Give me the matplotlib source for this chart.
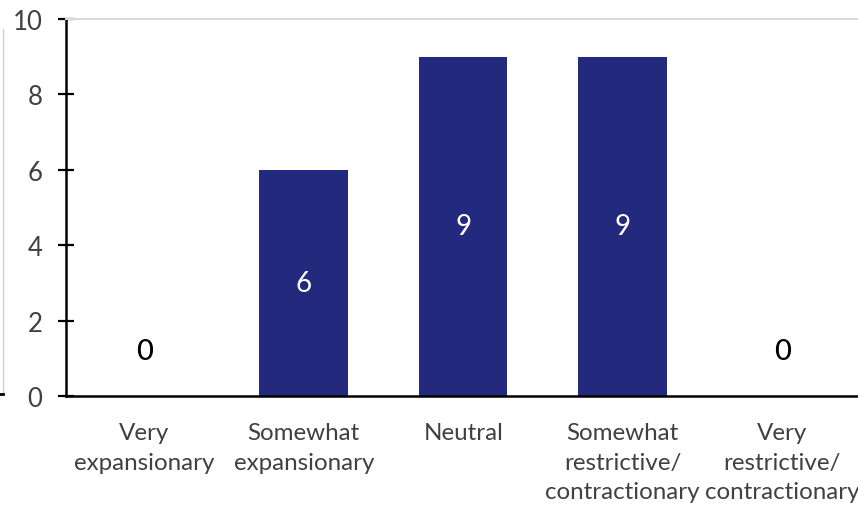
import matplotlib.pyplot as plt
from matplotlib.lines import Line2D

# 数据
categories = ['Very\nexpansionary', 'Somewhat\nexpansionary', 'Neutral',
              'Somewhat\nrestrictive/\ncontractionary',
              'Very\nrestrictive/\ncontractionary']
counts = [0, 6, 9, 9, 0]
y_ticks = [0, 2, 4, 6, 8, 10]

BAR_COLOR = '#232A7E'
TEXT_COLOR = '#404040'
plt.rcParams['font.family'] = ['Lato', 'DejaVu Sans']

fig = plt.figure(figsize=(8.58, 5.06), dpi=100)
ax = fig.add_axes([0.0770, 0.2154, 1 - 0.0770, 0.9605 - 0.2154])

x = list(range(len(categories)))
bars = ax.bar(x, counts, width=0.555, color=BAR_COLOR, zorder=2)

for xi, v in zip(x, counts):
    if v > 0:
        ax.text(xi, v / 2, str(v), ha='center', va='center',
                color='white', fontsize=20)
    else:
        ax.text(xi, 1.2, str(v), ha='center', va='center',
                color='black', fontsize=21, fontweight='medium')

ax.set_xlim(-0.49, 4.475)
ax.set_ylim(0, 10)
ax.set_yticks(y_ticks)
ax.set_xticks(x)
ax.set_xticklabels(categories, fontsize=17.4, color=TEXT_COLOR, linespacing=1.5)
ax.tick_params(axis='x', length=0, pad=19)
ax.tick_params(axis='y', direction='inout', length=12, width=1.6,
               labelsize=18.5, labelcolor=TEXT_COLOR, pad=11)

for s in ['left', 'bottom']:
    ax.spines[s].set_linewidth(1.8)
    ax.spines[s].set_color('black')
ax.spines['right'].set_visible(False)
ax.spines['top'].set_color('#d9d9d9')
ax.spines['top'].set_linewidth(1.5)

# 左侧裁剪残留的细线
fig.add_artist(Line2D([0.003, 0.003], [1 - 30 / 506, 1 - 395 / 506],
                      color='#cccccc', lw=1))
fig.add_artist(Line2D([0.0, 0.004], [1 - 395 / 506, 1 - 395 / 506],
                      color='black', lw=2))

plt.savefig('out.png', dpi=100)
plt.close()
